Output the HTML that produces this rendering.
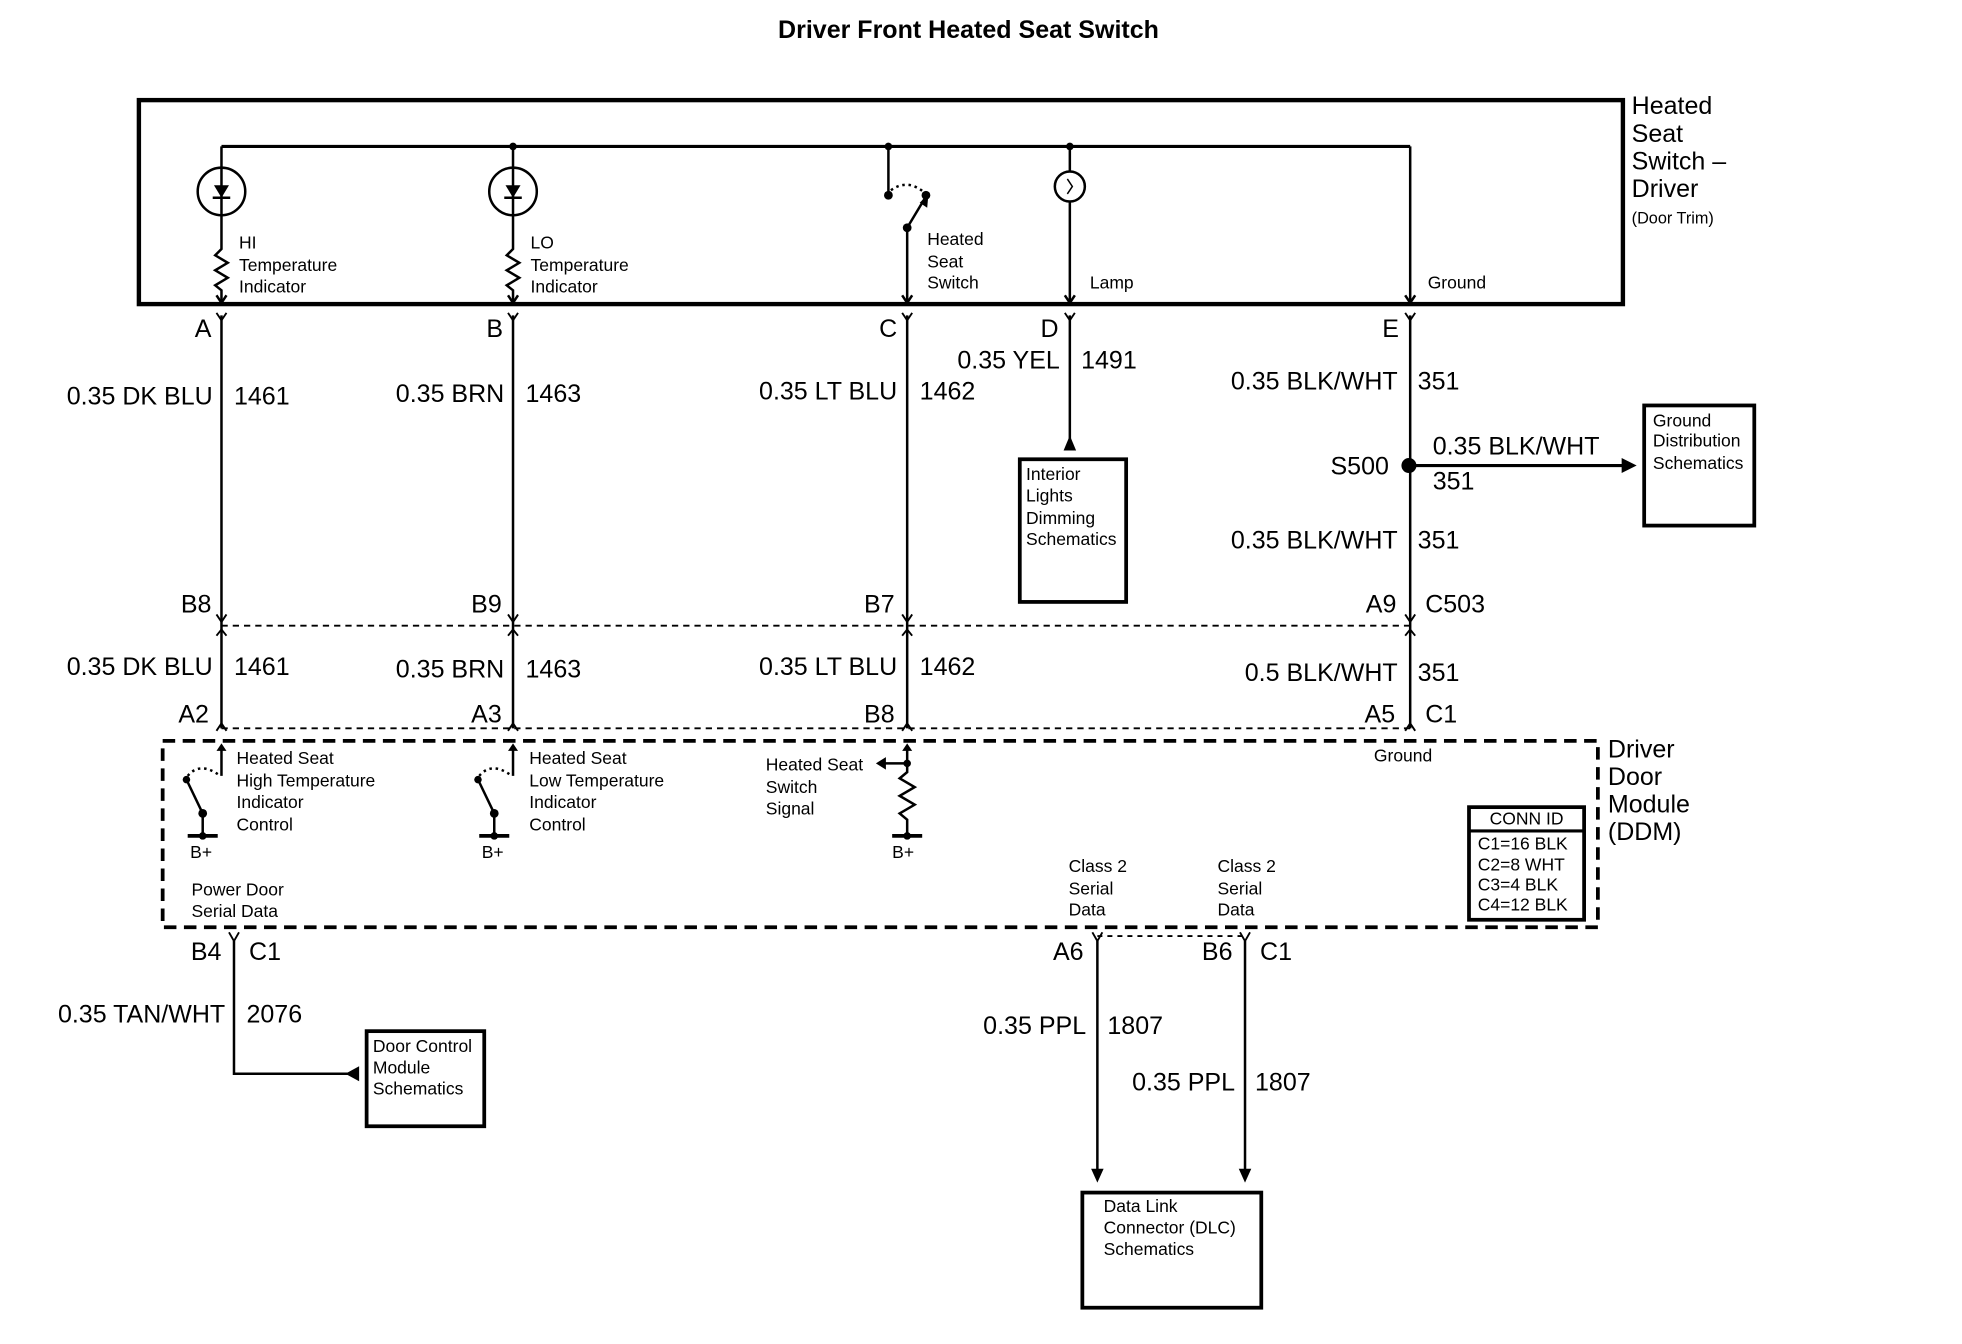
<!DOCTYPE html>
<html><head><meta charset="utf-8"><style>
html,body{margin:0;padding:0;background:#fff;}
svg{display:block;}
text{font-family:"Liberation Sans",sans-serif;fill:#000;dominant-baseline:middle;}
.w{font-size:20px;}
.s{font-size:14px;}
.b{font-size:20px;}
</style></head><body>
<svg width="1962" height="1344" viewBox="0 0 1568 1074" preserveAspectRatio="none" xmlns="http://www.w3.org/2000/svg">
<g stroke="#000" fill="none" stroke-width="2">
<rect x="111" y="80" width="1186" height="163" stroke-width="3.5"/>
<line x1="177" y1="117" x2="1127" y2="117" stroke-width="2.5"/>
<line x1="177" y1="117" x2="177" y2="195"/>
<ellipse cx="177" cy="153" rx="19" ry="19"/>
<polyline points="177,195 177,199 172,204 182,210 172,216 182,222 172,228 177,232 177,242"/>
<polyline points="173,236 177,242 181,236"/>
<line x1="410" y1="117" x2="410" y2="195"/>
<ellipse cx="410" cy="153" rx="19" ry="19"/>
<polyline points="410,195 410,199 405,204 415,210 405,216 415,222 405,228 410,232 410,242"/>
<polyline points="406,236 410,242 414,236"/>
<line x1="710" y1="117" x2="710" y2="155"/>
<path d="M712 152 Q726 142 740 155" stroke-dasharray="2,3"/>
<line x1="740" y1="157" x2="725" y2="182"/>
<line x1="725" y1="182" x2="725" y2="242"/>
<polyline points="721,236 725,242 729,236"/>
<line x1="855" y1="117" x2="855" y2="137"/>
<ellipse cx="855" cy="149" rx="12" ry="12"/>
<path d="M853 143 L857 149 L853 155" stroke-width="1.2"/>
<line x1="855" y1="161" x2="855" y2="242"/>
<polyline points="851,236 855,242 859,236"/>
<line x1="1127" y1="117" x2="1127" y2="242"/>
<polyline points="1123,236 1127,242 1131,236"/>
<line x1="177" y1="252" x2="177" y2="582"/>
<line x1="410" y1="252" x2="410" y2="582"/>
<line x1="725" y1="252" x2="725" y2="582"/>
<line x1="855" y1="252" x2="855" y2="352"/>
<line x1="1127" y1="252" x2="1127" y2="582"/>
<g stroke-width="1.5">
<polyline points="173,250 177,256 181,250"/><polyline points="406,250 410,256 414,250"/>
<polyline points="721,250 725,256 729,250"/><polyline points="851,250 855,256 859,250"/>
<polyline points="1123,250 1127,256 1131,250"/>
<polyline points="173,491 177,497 181,491"/><polyline points="406,491 410,497 414,491"/>
<polyline points="721,491 725,497 729,491"/><polyline points="1123,491 1127,497 1131,491"/>
<polyline points="173,508 177,503 181,508"/><polyline points="406,508 410,503 414,508"/>
<polyline points="721,508 725,503 729,508"/><polyline points="1123,508 1127,503 1131,508"/>
<polyline points="173,584 177,578 181,584"/><polyline points="406,584 410,578 414,584"/>
<polyline points="721,584 725,578 729,584"/><polyline points="1123,584 1127,578 1131,584"/>
</g>
<line x1="177" y1="500" x2="1127" y2="500" stroke-dasharray="5,4" stroke-width="1.5"/>
<line x1="177" y1="582" x2="1127" y2="582" stroke-dasharray="5,4" stroke-width="1.5"/>
<rect x="815" y="367" width="85" height="114" stroke-width="3"/>
<line x1="1127" y1="372" x2="1300" y2="372" stroke-width="2.5"/>
<rect x="1314" y="324" width="88" height="96" stroke-width="3"/>
<rect x="130" y="592" width="1147" height="149" stroke-width="3" stroke-dasharray="10,6"/>
<line x1="177" y1="598" x2="177" y2="620"/>
<path d="M150 620 Q160 608 176 620" stroke-dasharray="2,3"/>
<line x1="150" y1="625" x2="162" y2="650"/>
<line x1="162" y1="650" x2="162" y2="668"/>
<line x1="150" y1="668" x2="174" y2="668" stroke-width="3"/>
<line x1="410" y1="598" x2="410" y2="620"/>
<path d="M383 620 Q393 608 409 620" stroke-dasharray="2,3"/>
<line x1="383" y1="625" x2="395" y2="650"/>
<line x1="395" y1="650" x2="395" y2="668"/>
<line x1="383" y1="668" x2="407" y2="668" stroke-width="3"/>
<line x1="725" y1="598" x2="725" y2="612"/>
<line x1="725" y1="610" x2="706" y2="610"/>
<polyline points="725,612 725,617 719,622 731,629 719,636 731,643 719,650 725,655 725,668"/>
<line x1="713" y1="668" x2="737" y2="668" stroke-width="3"/>
<rect x="1174" y="645" width="92" height="90" stroke-width="3"/>
<line x1="1174" y1="664" x2="1266" y2="664" stroke-width="2.5"/>
<polyline points="183,745 187,752 191,745" stroke-width="1.5"/>
<polyline points="187,752 187,858 280,858"/>
<rect x="293" y="824" width="94" height="76" stroke-width="3"/>
<polyline points="873,745 877,752 881,745" stroke-width="1.5"/>
<polyline points="991,745 995,752 999,745" stroke-width="1.5"/>
<line x1="877" y1="748" x2="995" y2="748" stroke-dasharray="4,4" stroke-width="1.5"/>
<line x1="877" y1="752" x2="877" y2="936"/>
<line x1="995" y1="752" x2="995" y2="936"/>
<rect x="865" y="953" width="143" height="92" stroke-width="3"/>
</g>
<g fill="#000">
<polygon points="171,148 183,148 177,158"/><line x1="170" y1="158" x2="184" y2="158" stroke="#000" stroke-width="2"/>
<polygon points="404,148 416,148 410,158"/><line x1="403" y1="158" x2="417" y2="158" stroke="#000" stroke-width="2"/>
<circle cx="410" cy="117" r="3"/><circle cx="710" cy="117" r="3"/><circle cx="855" cy="117" r="3"/>
<circle cx="710" cy="156" r="3.5"/><circle cx="740" cy="156" r="3.5"/><circle cx="725" cy="182" r="3.5"/>
<polygon points="735,162 742,155 741,166"/>
<polygon points="850,360 860,360 855,348"/>
<circle cx="1126" cy="372" r="6"/>
<polygon points="1296,366 1308,372 1296,378"/>
<circle cx="149" cy="623" r="3"/><circle cx="162" cy="650" r="3.5"/><circle cx="162" cy="668" r="3"/>
<circle cx="382" cy="623" r="3"/><circle cx="395" cy="650" r="3.5"/><circle cx="395" cy="668" r="3"/>
<circle cx="725" cy="610" r="3"/><circle cx="725" cy="668" r="3"/>
<polygon points="700,610 708,605 708,615"/>
<polygon points="173,600 177,594 181,600"/><polygon points="406,600 410,594 414,600"/><polygon points="721,600 725,594 729,600"/>
<polygon points="287,852 287,864 276,858"/>
<polygon points="872,934 882,934 877,945"/>
<polygon points="990,934 1000,934 995,945"/>
</g>
<text x="774" y="25" text-anchor="middle" style="font-size:20px;font-weight:bold">Driver Front Heated Seat Switch</text>
<text x="1304" y="86" class="b">Heated</text><text x="1304" y="108" class="b">Seat</text>
<text x="1304" y="130" class="b">Switch –</text><text x="1304" y="152" class="b">Driver</text>
<text x="1304" y="175" style="font-size:13px">(Door Trim)</text>
<text x="191" y="195" class="s">HI</text><text x="191" y="213" class="s">Temperature</text><text x="191" y="230" class="s">Indicator</text>
<text x="424" y="195" class="s">LO</text><text x="424" y="213" class="s">Temperature</text><text x="424" y="230" class="s">Indicator</text>
<text x="741" y="192" class="s">Heated</text><text x="741" y="210" class="s">Seat</text><text x="741" y="227" class="s">Switch</text>
<text x="871" y="227" class="s">Lamp</text><text x="1141" y="227" class="s">Ground</text>
<g class="w" text-anchor="end">
<text x="169" y="264" class="w">A</text><text x="402" y="264" class="w">B</text><text x="717" y="264" class="w">C</text>
<text x="846" y="264" class="w">D</text><text x="1118" y="264" class="w">E</text>
<text x="170" y="318" class="w">0.35 DK BLU</text><text x="403" y="316" class="w">0.35 BRN</text>
<text x="717" y="314" class="w">0.35 LT BLU</text><text x="847" y="289" class="w">0.35 YEL</text>
<text x="1117" y="306" class="w">0.35 BLK/WHT</text><text x="1110" y="374" class="w">S500</text>
<text x="1117" y="433" class="w">0.35 BLK/WHT</text>
<text x="169" y="484" class="w">B8</text><text x="401" y="484" class="w">B9</text><text x="715" y="484" class="w">B7</text><text x="1116" y="484" class="w">A9</text>
<text x="170" y="534" class="w">0.35 DK BLU</text><text x="403" y="536" class="w">0.35 BRN</text>
<text x="717" y="534" class="w">0.35 LT BLU</text><text x="1117" y="539" class="w">0.5 BLK/WHT</text>
<text x="167" y="572" class="w">A2</text><text x="401" y="572" class="w">A3</text><text x="715" y="572" class="w">B8</text><text x="1115" y="572" class="w">A5</text>
<text x="177" y="762" class="w">B4</text><text x="866" y="762" class="w">A6</text><text x="985" y="762" class="w">B6</text>
<text x="180" y="812" class="w">0.35 TAN/WHT</text><text x="868" y="821" class="w">0.35 PPL</text><text x="987" y="866" class="w">0.35 PPL</text>
</g>
<text x="187" y="318" class="w">1461</text><text x="420" y="316" class="w">1463</text><text x="735" y="314" class="w">1462</text>
<text x="864" y="289" class="w">1491</text><text x="1133" y="306" class="w">351</text>
<text x="1145" y="358" class="w">0.35 BLK/WHT</text><text x="1145" y="386" class="w">351</text>
<text x="1133" y="433" class="w">351</text><text x="1139" y="484" class="w">C503</text>
<text x="187" y="534" class="w">1461</text><text x="420" y="536" class="w">1463</text><text x="735" y="534" class="w">1462</text><text x="1133" y="539" class="w">351</text>
<text x="1139" y="572" class="w">C1</text>
<text x="199" y="762" class="w">C1</text><text x="1007" y="762" class="w">C1</text>
<text x="197" y="812" class="w">2076</text><text x="885" y="821" class="w">1807</text><text x="1003" y="866" class="w">1807</text>
<text x="820" y="380" class="s">Interior</text><text x="820" y="397" class="s">Lights</text><text x="820" y="415" class="s">Dimming</text><text x="820" y="432" class="s">Schematics</text>
<text x="1321" y="337" class="s">Ground</text><text x="1321" y="353" class="s">Distribution</text><text x="1321" y="371" class="s">Schematics</text>
<text x="189" y="607" class="s">Heated Seat</text><text x="189" y="625" class="s">High Temperature</text><text x="189" y="642" class="s">Indicator</text><text x="189" y="660" class="s">Control</text>
<text x="423" y="607" class="s">Heated Seat</text><text x="423" y="625" class="s">Low Temperature</text><text x="423" y="642" class="s">Indicator</text><text x="423" y="660" class="s">Control</text>
<text x="612" y="612" class="s">Heated Seat</text><text x="612" y="630" class="s">Switch</text><text x="612" y="647" class="s">Signal</text>
<text x="152" y="682" class="s">B+</text><text x="385" y="682" class="s">B+</text><text x="713" y="682" class="s">B+</text>
<text x="1098" y="605" class="s">Ground</text>
<text x="153" y="712" class="s">Power Door</text><text x="153" y="729" class="s">Serial Data</text>
<text x="854" y="693" class="s">Class 2</text><text x="854" y="711" class="s">Serial</text><text x="854" y="728" class="s">Data</text>
<text x="973" y="693" class="s">Class 2</text><text x="973" y="711" class="s">Serial</text><text x="973" y="728" class="s">Data</text>
<text x="1220" y="655" class="s" text-anchor="middle">CONN ID</text>
<text x="1181" y="675" class="s">C1=16 BLK</text><text x="1181" y="692" class="s">C2=8 WHT</text><text x="1181" y="708" class="s">C3=4 BLK</text><text x="1181" y="724" class="s">C4=12 BLK</text>
<text x="1285" y="600" class="b">Driver</text><text x="1285" y="622" class="b">Door</text><text x="1285" y="644" class="b">Module</text><text x="1285" y="666" class="b">(DDM)</text>
<text x="298" y="837" class="s">Door Control</text><text x="298" y="854" class="s">Module</text><text x="298" y="871" class="s">Schematics</text>
<text x="882" y="965" class="s">Data Link</text><text x="882" y="982" class="s">Connector (DLC)</text><text x="882" y="999" class="s">Schematics</text>
</svg>
</body></html>
